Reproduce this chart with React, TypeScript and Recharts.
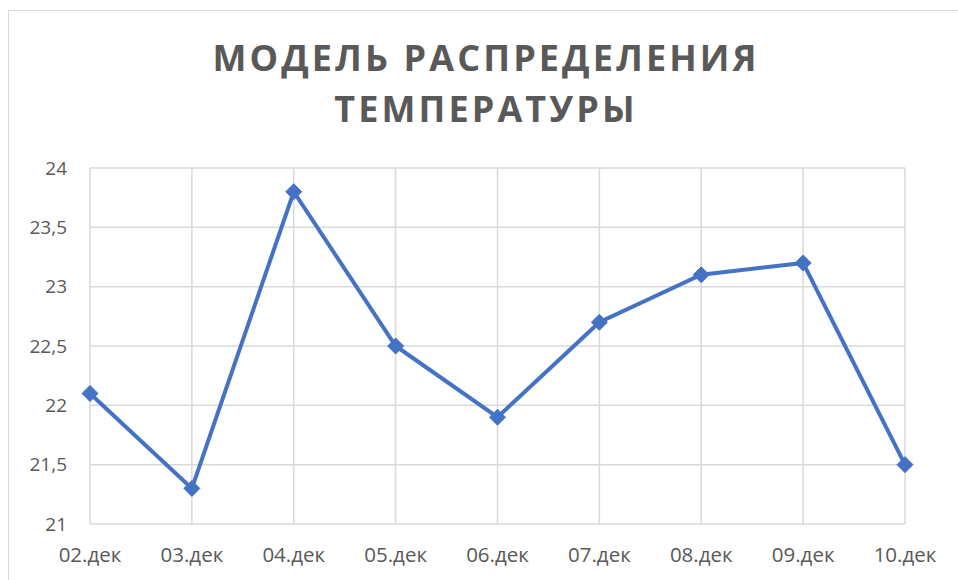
import React from 'react';
import { LineChart, Line, XAxis, YAxis, CartesianGrid } from 'recharts';

const categories = ['02.дек', '03.дек', '04.дек', '05.дек', '06.дек', '07.дек', '08.дек', '09.дек', '10.дек'];
const temperatures = [22.1, 21.3, 23.8, 22.5, 21.9, 22.7, 23.1, 23.2, 21.5];
const yTicks = [21, 21.5, 22, 22.5, 23, 23.5, 24];
const titleLines = ['МОДЕЛЬ РАСПРЕДЕЛЕНИЯ', 'ТЕМПЕРАТУРЫ'];

const data = categories.map((c, i) => ({ date: c, t: temperatures[i] }));

const Diamond = (props: any) => {
  const { cx, cy } = props;
  if (cx == null || cy == null) return null;
  const r = 8;
  return (
    <path
      d={`M${cx},${cy - r}L${cx + r},${cy}L${cx},${cy + r}L${cx - r},${cy}Z`}
      fill="#4472C4"
      stroke="#4472C4"
      strokeWidth={1}
    />
  );
};

const fmt = (v: number) => String(v).replace('.', ',');

export default function App() {
  return (
    <div
      style={{
        position: 'fixed',
        left: 8,
        top: 10,
        width: 950,
        height: 570,
        borderLeft: '1px solid #d9d9d9',
        borderTop: '1px solid #d9d9d9',
        background: '#fff',
        overflow: 'hidden',
      }}
    >
      <div
        style={{
          position: 'absolute',
          left: 0,
          top: 21,
          width: 954,
          textAlign: 'center',
          fontFamily: '"Open Sans", sans-serif',
          fontWeight: 700,
          fontSize: 36,
          lineHeight: '51px',
          letterSpacing: 3.1,
          color: '#595959',
        }}
      >
        {titleLines.map((l) => (
          <div key={l}>{l}</div>
        ))}
      </div>
      <LineChart
        width={949}
        height={569}
        data={data}
        margin={{ top: 157, right: 53, bottom: 16, left: 21 }}
        style={{ fontFamily: '"Open Sans", sans-serif' }}
      >
        <CartesianGrid stroke="#d9d9d9" strokeWidth={1.5} />
        <XAxis
          dataKey="date"
          axisLine={false}
          tickLine={false}
          tickSize={0}
          tickMargin={23}
          height={40}
          interval={0}
          tick={{ fill: '#595959', fontSize: 20.5 }}
        />
        <YAxis
          domain={[21, 24]}
          ticks={yTicks}
          tickFormatter={fmt}
          axisLine={false}
          tickLine={false}
          tickSize={0}
          tickMargin={23}
          width={60}
          tick={{ fill: '#595959', fontSize: 19 }}
        />
        <Line
          dataKey="t"
          stroke="#4472C4"
          strokeWidth={4}
          dot={<Diamond />}
          activeDot={false}
          isAnimationActive={false}
        />
      </LineChart>
    </div>
  );
}
